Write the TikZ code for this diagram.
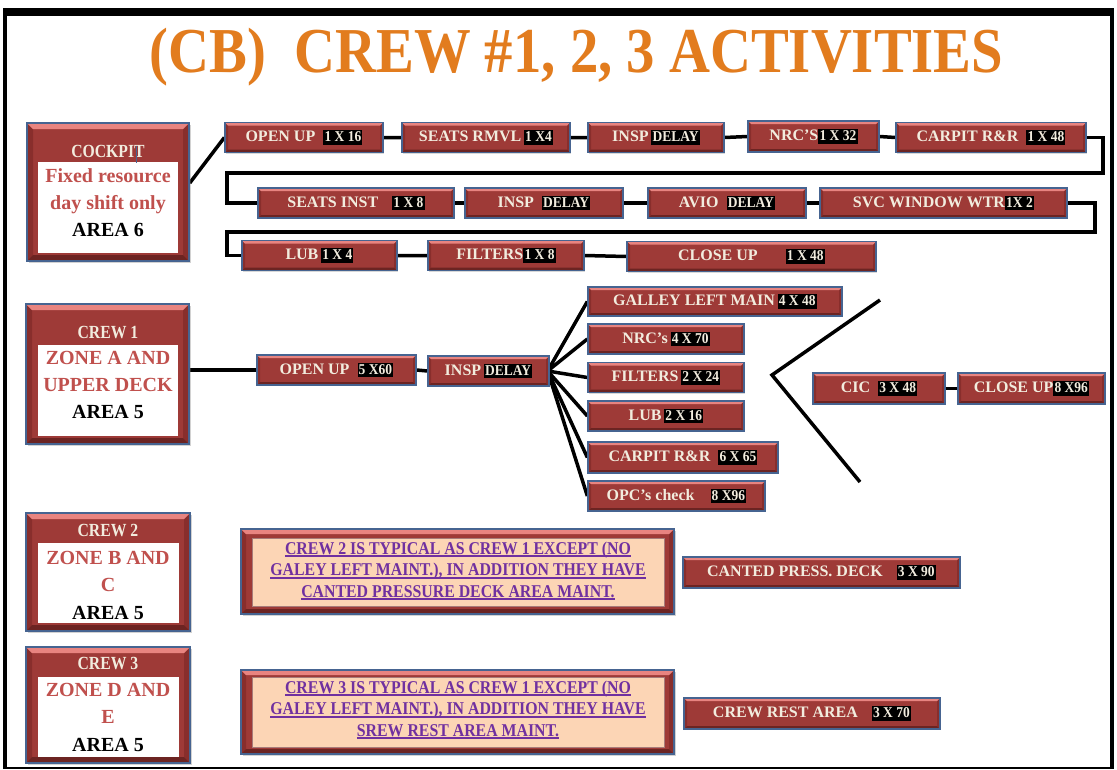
\documentclass[tikz,border=0pt]{standalone}
\usepackage{fontspec}
\setmainfont{Liberation Serif}
\newfontfamily\titlefont[FakeStretch=0.886]{Liberation Serif}
\newfontfamily\hdrfont[FakeStretch=0.85]{Liberation Serif}
\newfontfamily\notefont[FakeStretch=0.88]{Liberation Serif}
\newfontfamily\numfont[FakeStretch=0.9]{Liberation Serif}
\usetikzlibrary{shadows}

\definecolor{boxred}{RGB}{158,58,55}
\definecolor{bevtop}{RGB}{232,132,128}
\definecolor{bevbot}{RGB}{108,36,34}
\definecolor{bevside}{RGB}{136,46,44}
\definecolor{boxedge}{RGB}{70,100,145}
\definecolor{cream}{RGB}{242,236,222}
\definecolor{zonered}{RGB}{192,80,77}
\definecolor{notepeach}{RGB}{252,213,181}
\definecolor{notepurple}{RGB}{112,48,160}
\definecolor{titleorange}{RGB}{226,124,30}

% black tag holding a count or status
\newcommand\nbox[1]{{\setlength\fboxsep{1.2pt}\colorbox{black}{\numfont\bfseries\fontsize{15}{16}\selectfont\textcolor{cream}{\rule[-1.6pt]{0pt}{12pt}#1}}}}
% underlined line of a note
\newcommand\undl[1]{\setbox0\hbox{#1}\rlap{\rule[-2.8pt]{\wd0}{1.8pt}}\box0}

\pgfdeclarelayer{background}
\pgfsetlayers{background,main}

\tikzset{
  bevel/.style={path picture={
    \fill[bevside] (path picture bounding box.north west) -- ([xshift=#1,yshift=-#1]path picture bounding box.north west)
      -- ([xshift=#1,yshift=#1]path picture bounding box.south west) -- (path picture bounding box.south west) -- cycle;
    \fill[bevside] (path picture bounding box.north east) -- ([xshift=-#1,yshift=-#1]path picture bounding box.north east)
      -- ([xshift=-#1,yshift=#1]path picture bounding box.south east) -- (path picture bounding box.south east) -- cycle;
    \fill[bevbot] (path picture bounding box.south west) -- ([xshift=#1,yshift=#1]path picture bounding box.south west)
      -- ([xshift=-#1,yshift=#1]path picture bounding box.south east) -- (path picture bounding box.south east) -- cycle;
    \fill[bevtop] (path picture bounding box.north west) -- ([xshift=#1,yshift=-#1]path picture bounding box.north west)
      -- ([xshift=-#1,yshift=-#1]path picture bounding box.north east) -- (path picture bounding box.north east) -- cycle;
  }},
  task/.style={draw=boxedge, line width=1.3pt, fill=boxred, bevel=3pt,
    minimum height=30pt, inner sep=0pt, text=cream,
    font=\fontsize{16}{17}\selectfont\bfseries,
    drop shadow={shadow xshift=1.2pt, shadow yshift=-1.2pt, opacity=0.3}},
  crewbox/.style={draw=boxedge, line width=1.5pt, fill=boxred, bevel=6pt, inner sep=0pt,
    drop shadow={shadow xshift=1.5pt, shadow yshift=-1.5pt, opacity=0.35}},
  notebox/.style={draw=boxedge, line width=1.5pt, fill=boxred, bevel=5pt, inner sep=0pt,
    drop shadow={shadow xshift=1.5pt, shadow yshift=-1.5pt, opacity=0.35}},
  whitein/.style={fill=white, inner sep=0pt},
  peachin/.style={fill=notepeach, draw=bevbot!60, line width=0.6pt, inner sep=0pt},
  hdr/.style={inner sep=0pt, text=cream, font=\hdrfont\bfseries\fontsize{18.5}{19}\selectfont},
  zone/.style={inner sep=0pt, text=zonered, align=center, font=\fontsize{20}{27}\selectfont\bfseries},
  notetext/.style={inner sep=0pt, text=notepurple, align=center, font=\notefont\bfseries\fontsize{18}{21.5}\selectfont},
  conn/.style={line width=3.5pt, black, line join=miter},
}

\begin{document}
\begin{tikzpicture}[x=1pt,y=-1pt]
\useasboundingbox (0,0) rectangle (1117,769);

% title
\node[anchor=base, inner sep=0pt, text=titleorange, font=\titlefont\bfseries\fontsize{64}{70}\selectfont]
  (title) at (576.5,72) {(CB)\ \ CREW \#1, 2, 3 ACTIVITIES};

% ---- cockpit group
\node[crewbox, minimum width=162pt, minimum height=138pt] (ck) at (108,192) {};
\node[whitein, minimum width=140pt, minimum height=91pt] (ckin) at (108,207.5) {};
\node[hdr] (ckh) at (108,151) {COCKPIT};
\draw[boxedge, line width=0.8pt] (136,146) -- (136,163);
\node[zone] (ckt) at (108,203) {Fixed resource\\day shift only\\\textcolor{black}{AREA 6}};

\node[task, minimum width=158pt] (ou1) at (304,137.5) {OPEN UP\ \ \nbox{1 X 16}};
\node[task, minimum width=168pt] (sr) at (486,137.5) {SEATS RMVL\,\nbox{1 X4}};
\node[task, minimum width=136pt] (in1) at (656,137.5) {INSP\,\nbox{DELAY}};
\node[task, minimum width=131pt, minimum height=31pt] (nrc1) at (813.5,136.5) {NRC’S\nbox{1 X 32}};
\node[task, minimum width=190pt] (cp1) at (991,137.5) {CARPIT R\&R\ \ \nbox{1 X 48}};

\node[task, minimum width=196pt] (si) at (356,203) {SEATS INST\hspace{14pt}\nbox{1 X 8}};
\node[task, minimum width=158pt] (in2) at (544,203) {INSP\hspace{8pt}\nbox{DELAY}};
\node[task, minimum width=158pt] (av) at (727,203) {AVIO\hspace{8pt}\nbox{DELAY}};
\node[task, minimum width=247pt] (svc) at (943.5,203) {SVC WINDOW WTR\nbox{1X 2}};

\node[task, minimum width=155pt] (lb1) at (319.5,255.5) {LUB\,\nbox{1 X 4}};
\node[task, minimum width=156pt] (fl1) at (506,255.5) {FILTERS\nbox{1 X 8}};
\node[task, minimum width=249pt] (cu1) at (751.5,256.5) {CLOSE UP\hspace{28pt}\nbox{1 X 48}};

% ---- crew 1 group
\node[crewbox, minimum width=163pt, minimum height=140pt] (c1) at (107.5,374) {};
\node[whitein, minimum width=140pt, minimum height=91pt] (c1in) at (108,390.5) {};
\node[hdr] (c1h) at (108,333) {CREW 1};
\node[zone] (c1t) at (108,385) {ZONE A AND\\UPPER DECK\\\textcolor{black}{AREA 5}};

\node[task, minimum width=159pt] (ou2) at (336.5,370) {OPEN UP\ \ \nbox{5 X60}};
\node[task, minimum width=121pt] (in3) at (488.5,371) {INSP\,\nbox{DELAY}};
\node[task, minimum width=254pt, minimum height=29pt] (gal) at (715,301.5) {GALLEY LEFT MAIN\,\nbox{4 X 48}};
\node[task, minimum width=156pt] (nrc2) at (666,339) {NRC’s\,\nbox{4 X 70}};
\node[task, minimum width=156pt] (fl2) at (666,377.5) {FILTERS\,\nbox{2 X 24}};
\node[task, minimum width=156pt] (lb2) at (666,416) {LUB\,\nbox{2 X 16}};
\node[task, minimum width=190pt, minimum height=31pt] (cp2) at (683,457.5) {CARPIT R\&R\ \ \nbox{6 X 65}};
\node[task, minimum width=177pt] (opc) at (676.5,496) {OPC’s check\hspace{16pt}\nbox{8 X96}};
\node[task, minimum width=132pt, minimum height=31pt] (cic) at (879,388.5) {CIC\ \ \nbox{3 X 48}};
\node[task, minimum width=147pt, minimum height=31pt] (cu2) at (1031.5,388.5) {CLOSE UP\nbox{8 X96}};

% ---- crew 2 group
\node[crewbox, minimum width=164pt, minimum height=118pt] (c2) at (108,572) {};
\node[whitein, minimum width=141pt, minimum height=80pt] (c2in) at (108.5,583) {};
\node[hdr] (c2h) at (108,531) {CREW 2};
\node[zone, font=\fontsize{20}{27.5}\selectfont\bfseries] (c2t) at (108,585) {ZONE B AND\\C\\\textcolor{black}{AREA 5}};

\node[notebox, minimum width=433pt, minimum height=85pt] (n2) at (457.5,571.5) {};
\node[peachin, minimum width=412pt, minimum height=68pt] (n2in) at (458,572) {};
\node[notetext] (n2t) at (458,571) {\undl{CREW 2 IS TYPICAL AS CREW 1 EXCEPT (NO}\\
  \undl{GALEY LEFT MAINT.), IN ADDITION THEY HAVE}\\\undl{CANTED PRESSURE DECK AREA MAINT.}};
\node[task, minimum width=277pt, minimum height=31pt] (cpd) at (821.5,572.5) {CANTED PRESS. DECK\hspace{14pt}\nbox{3 X 90}\hspace{16pt}};

% ---- crew 3 group
\node[crewbox, minimum width=164pt, minimum height=116pt] (c3) at (108,705) {};
\node[whitein, minimum width=141pt, minimum height=80pt] (c3in) at (108.5,717) {};
\node[hdr] (c3h) at (108,664) {CREW 3};
\node[zone, font=\fontsize{20}{27.5}\selectfont\bfseries] (c3t) at (108,717) {ZONE D AND\\E\\\textcolor{black}{AREA 5}};

\node[notebox, minimum width=433pt, minimum height=84pt] (n3) at (457.5,712) {};
\node[peachin, minimum width=412pt, minimum height=70pt] (n3in) at (458,712) {};
\node[notetext] (n3t) at (458,710) {\undl{CREW 3 IS TYPICAL AS CREW 1 EXCEPT (NO}\\
  \undl{GALEY LEFT MAINT.), IN ADDITION THEY HAVE}\\\undl{SREW REST AREA MAINT.}};
\node[task, minimum width=256pt, minimum height=31pt] (cra) at (812,713.5) {CREW REST AREA\hspace{14pt}\nbox{3 X 70}\hspace{27pt}};

% ---- frame and connectors, behind the boxes
\begin{pgfonlayer}{background}
  \fill[black] (3,8) rectangle (1114,769);
  \fill[white] (7,16) rectangle (1110,766.5);

  \draw[conn] ([yshift=9pt]ck.east) -- (ou1.west);
  \draw[conn] (ou1.east) -- (sr.west) (sr.east) -- (in1.west) (in1.east) -- (nrc1.west) (nrc1.east) -- (cp1.west);
  \coordinate (t1) at (1103,173);
  \coordinate (t2) at (227,173);
  \draw[conn] (cp1.east) -| (t1) -- (t2) |- (si.west);
  \draw[conn] (si.east) -- (in2.west) (in2.east) -- (av.west) (av.east) -- (svc.west);
  \coordinate (t3) at (1095,232);
  \coordinate (t4) at (227,232);
  \draw[conn] (svc.east) -| (t3) -- (t4) |- (lb1.west);
  \draw[conn] (lb1.east) -- (fl1.west) (fl1.east) -- (cu1.west);

  \draw[conn] (c1.east |- ou2.west) -- (ou2.west);
  \draw[conn] (ou2.east) -- (in3.west);
  \foreach \t in {gal,nrc2,fl2,lb2,cp2,opc}
    \draw[conn] ([xshift=-2pt]in3.east) -- (\t.west);
  \draw[conn] (880,300) -- (772,375) -- (860,482);
  \draw[conn] (cic.east) -- (cu2.west);
\end{pgfonlayer}
\end{tikzpicture}
\end{document}
